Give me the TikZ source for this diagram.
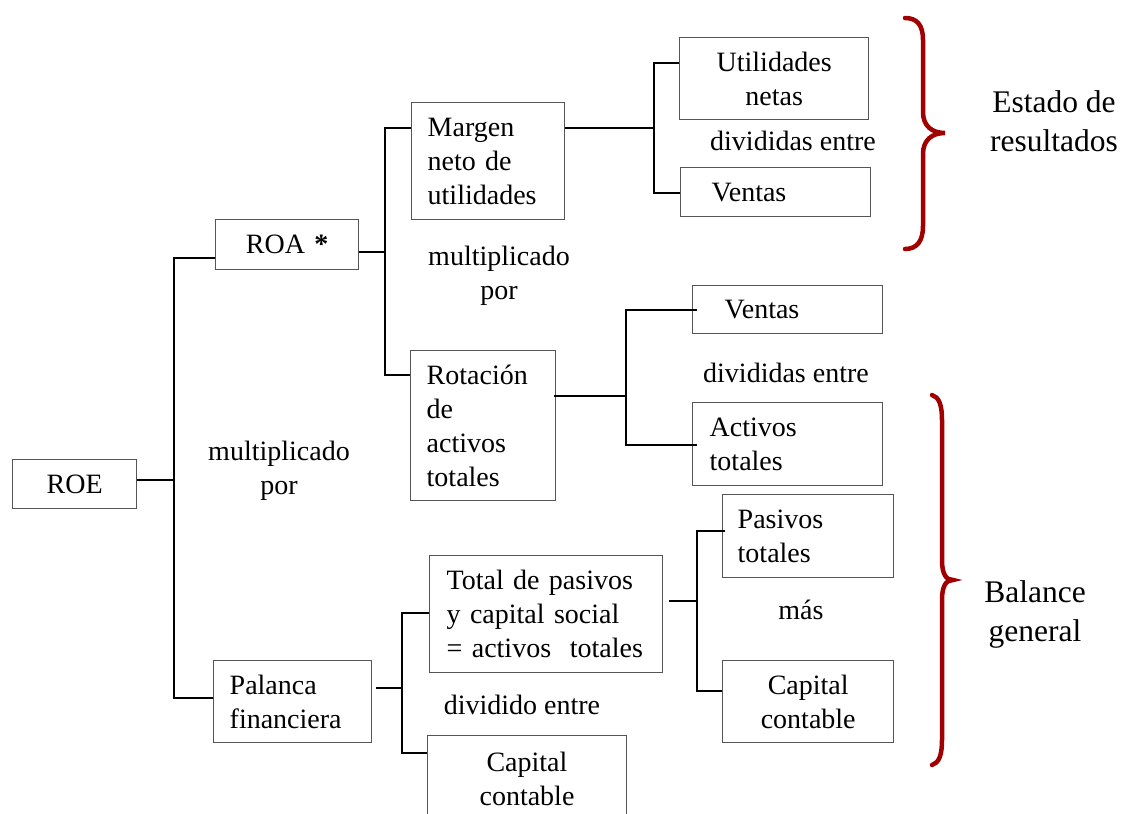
\documentclass[tikz,border=0pt]{standalone}
\usepackage{fontspec}
\setmainfont{Liberation Serif}
\definecolor{boxgray}{HTML}{555555}
\definecolor{bracered}{HTML}{A00000}
\newcommand{\fsn}{\fontsize{28}{34}\selectfont}
\newcommand{\fsb}{\fontsize{31.5}{39}\selectfont}
\begin{document}
\begin{tikzpicture}[x=1pt,y=-1pt,
  bx/.style={draw=boxgray, line width=1.4pt, anchor=north west, inner ysep=0pt, font=\fsn},
  conn/.style={draw=black, line width=2pt},
  lbl/.style={align=center, inner sep=0pt, font=\fsn},
  big/.style={align=center, inner sep=0pt, font=\fsb},
  brc/.style={draw=bracered, line width=4.5pt, line cap=round}]
\useasboundingbox (0,0) rectangle (1125,814);
\clip (0,0) rectangle (1125,814);
% boxes
\node[bx, minimum height=49pt, text width=104pt, inner xsep=10pt, align=center] (roe) at (12,459) {ROE};
\node[bx, minimum height=50pt, text width=123pt, inner xsep=10pt, align=center] (roa) at (215,219) {ROA \textbf{*}};
\node[bx, minimum height=82pt, text width=126pt, inner xsep=16pt, align=left] (pal) at (213,660) {Palanca\\financiera};
\node[bx, minimum height=117pt, text width=121pt, inner xsep=16pt, align=left] (mar) at (411,102) {Margen\\neto de\\utilidades};
\node[bx, minimum height=150pt, text width=113pt, inner xsep=16pt, align=left] (rot) at (410,350) {Rotación\\de\\activos\\totales};
\node[bx, minimum height=117pt, text width=199pt, inner xsep=17pt, align=left] (tot) at (429,555) {Total de pasivos\\y capital social\\= activos~ totales};
\node[bx, minimum height=130pt, text width=179pt, inner xsep=10pt, align=center, anchor=north west] (capb) at (427,735) {};
\node[lbl] (capbt) at (527,779) {Capital\\contable};
\node[bx, minimum height=82pt, text width=169pt, inner xsep=10pt, align=center] (uti) at (679,37) {Utilidades\\netas};
\node[bx, minimum height=49pt, text width=128pt, inner xsep=31pt, align=left] (ven1) at (680,167) {Ventas};
\node[bx, minimum height=48pt, text width=126pt, inner xsep=32pt, align=left] (ven2) at (692,285) {Ventas};
\node[bx, minimum height=83pt, text width=156pt, inner xsep=17pt, align=left] (act) at (692,402) {Activos\\totales};
\node[bx, minimum height=83pt, text width=141pt, inner xsep=15pt, align=left] (pas) at (722,494) {Pasivos\\totales};
\node[bx, minimum height=82pt, text width=151pt, inner xsep=10pt, align=center] (capr) at (722,660) {Capital\\contable};
% labels
\node[lbl] (m1) at (279,471) {multiplicado\\por};
\node[lbl] (m2) at (499,276) {multiplicado\\por};
\node[lbl] (d1) at (793,141) {divididas entre};
\node[lbl] (d2) at (786,373) {divididas entre};
\node[lbl] (mas) at (801,610) {más};
\node[lbl] (d3) at (522,705) {dividido entre};
\node[big] (est) at (1054,121) {Estado de\\resultados};
\node[big] (bal) at (1035,614) {Balance\\general};
% junction coordinates
\coordinate (j1) at (174,480);
\coordinate (t1a) at (174,258);
\coordinate (t1b) at (174,698);
\coordinate (j2) at (385,252);
\coordinate (t2a) at (385,128);
\coordinate (t2b) at (385,375);
\coordinate (j3) at (654,128);
\coordinate (t3a) at (654,63);
\coordinate (t3b) at (654,193);
\coordinate (j4) at (626,396);
\coordinate (t4a) at (626,310);
\coordinate (t4b) at (626,445);
\coordinate (j5) at (402,688);
\coordinate (t5a) at (402,613);
\coordinate (t5b) at (402,753);
\coordinate (j6) at (697,601);
\coordinate (t6a) at (697,531);
\coordinate (t6b) at (697,691);
% connectors
\draw[conn] (roe.east |- j1) -- (j1);
\draw[conn] (roa.west |- t1a) -- (t1a) -- (t1b) -- (pal.west |- t1b);
\draw[conn] (roa.east |- j2) -- (j2);
\draw[conn] (mar.west |- t2a) -- (t2a) -- (t2b) -- (rot.west |- t2b);
\draw[conn] (mar.east |- j3) -- (j3);
\draw[conn] (uti.west |- t3a) -- (t3a) -- (t3b) -- (ven1.west |- t3b);
\draw[conn] ([xshift=-2pt]rot.east |- j4) -- (j4);
\draw[conn] ([xshift=5pt]ven2.west |- t4a) -- (t4a) -- (t4b) -- ([xshift=5pt]act.west |- t4b);
\draw[conn] ([xshift=4pt]pal.east |- j5) -- (j5);
\draw[conn] (tot.west |- t5a) -- (t5a) -- (t5b) -- (capb.west |- t5b);
\draw[conn] ([xshift=6pt]tot.east |- j6) -- (j6);
\draw[conn] ([xshift=3pt]pas.west |- t6a) -- (t6a) -- (t6b) -- (capr.west |- t6b);
% braces
\draw[brc] (905,18) .. controls (917,18) and (923,25) .. (923,40) -- (923,112) .. controls (923,126) and (932,133) .. (945,133) .. controls (932,133) and (923,140) .. (923,154) -- (923,226) .. controls (923,241) and (917,249) .. (905,249);
\draw[brc] (932,395) .. controls (939,397) and (942,405) .. (942,420) -- (942,560) .. controls (942,574) and (946,580) .. (953,580) .. controls (946,580) and (942,586) .. (942,600) -- (942,740) .. controls (942,755) and (939,763) .. (932,765);
\end{tikzpicture}
\end{document}
